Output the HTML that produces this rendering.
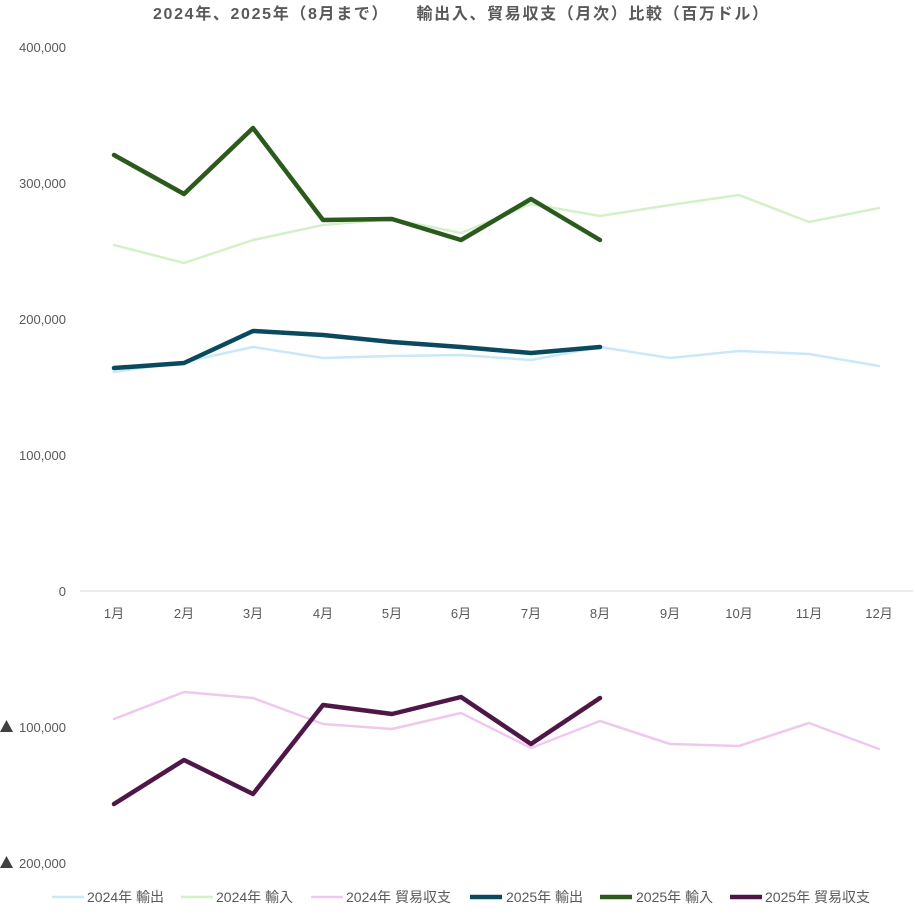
<!DOCTYPE html>
<html><head><meta charset="utf-8"><style>
html,body{margin:0;padding:0;background:#fff;}
svg text{font-family:"Liberation Sans","Noto Sans CJK JP",sans-serif;fill:#595959;}
</style></head><body>
<svg width="915" height="915" viewBox="0 0 915 915" xmlns="http://www.w3.org/2000/svg">
<rect width="915" height="915" fill="#fff"/>
<text x="153" y="19" font-size="16" font-weight="bold" textLength="615" lengthAdjust="spacing" xml:space="preserve">2024年、2025年（8月まで）　　輸出入、貿易収支（月次）比較（百万ドル）</text>
<g font-size="13" text-anchor="end">
<text x="66" y="52">400,000</text>
<text x="66" y="188">300,000</text>
<text x="66" y="324">200,000</text>
<text x="66" y="460">100,000</text>
<text x="66" y="596">0</text>
<text x="66" y="732">100,000</text>
<text x="66" y="868">200,000</text>
</g>
<polygon points="0,732 6.5,720 13,732" fill="#404040"/>
<polygon points="0,868 6.5,856 13,868" fill="#404040"/>
<line x1="80" y1="591" x2="913" y2="591" stroke="#d9d9d9" stroke-width="1"/>
<g font-size="13" text-anchor="middle">
<text x="114" y="618">1月</text><text x="184" y="618">2月</text><text x="253" y="618">3月</text><text x="323" y="618">4月</text>
<text x="392" y="618">5月</text><text x="461" y="618">6月</text><text x="531" y="618">7月</text><text x="600" y="618">8月</text>
<text x="670" y="618">9月</text><text x="739" y="618">10月</text><text x="809" y="618">11月</text><text x="879" y="618">12月</text>
</g>
<g fill="none" stroke-linejoin="round" stroke-linecap="round">
<polyline stroke="#c9e9f8" stroke-width="2.5" points="114,372 184,362 253,347 323,358 392,356 461,355 531,360 600,347 670,358 739,351 809,354 879,366"/>
<polyline stroke="#d5f0c8" stroke-width="2.5" points="114,245 184,263 253,240 323,225 392,219 461,233 531,204 600,216 670,205 739,195 809,222 879,208"/>
<polyline stroke="#f0c8ee" stroke-width="2.5" points="114,719 184,692 253,698 323,724 392,729 461,713 531,748 600,721 670,744 739,746 809,723 879,749"/>
<polyline stroke="#0b4a5e" stroke-width="4.5" points="114,368 184,363 253,331 323,335 392,342 461,347 531,353 600,347"/>
<polyline stroke="#2a5a1c" stroke-width="4.5" points="114,155 184,194 253,128 323,220 392,219 461,240 531,199 600,240"/>
<polyline stroke="#4f1747" stroke-width="4.5" points="114,804 184,760 253,794 323,705 392,714 461,697 531,744 600,698"/>
</g>
<g font-size="14">
<line x1="52" y1="897" x2="84" y2="897" stroke="#c9e9f8" stroke-width="2.5"/><text x="87" y="902">2024年 輸出</text>
<line x1="181" y1="897" x2="213" y2="897" stroke="#d5f0c8" stroke-width="2.5"/><text x="216" y="902">2024年 輸入</text>
<line x1="311" y1="897" x2="343" y2="897" stroke="#f0c8ee" stroke-width="2.5"/><text x="346" y="902">2024年 貿易収支</text>
<line x1="470" y1="897" x2="502" y2="897" stroke="#0b4a5e" stroke-width="4.5"/><text x="506" y="902">2025年 輸出</text>
<line x1="600" y1="897" x2="632" y2="897" stroke="#2a5a1c" stroke-width="4.5"/><text x="636" y="902">2025年 輸入</text>
<line x1="730" y1="897" x2="762" y2="897" stroke="#4f1747" stroke-width="4.5"/><text x="765" y="902">2025年 貿易収支</text>
</g>
</svg>
</body></html>
